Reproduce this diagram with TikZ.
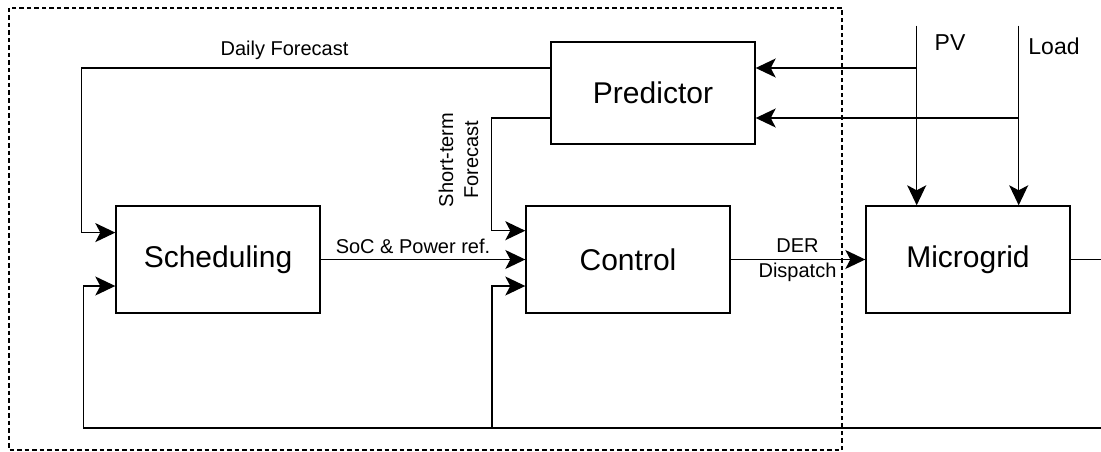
\documentclass[tikz,border=0pt]{standalone}
\usepackage{fontspec}
\setmainfont{Liberation Sans}
\usetikzlibrary{arrows.meta}
\begin{document}
\begin{tikzpicture}[x=1pt,y=-1pt,
  blk/.style={draw, line width=1.4pt, minimum width=204pt, minimum height=107pt,
    inner sep=0pt, font=\fontsize{30}{36}\selectfont},
  wire/.style={line width=1.4pt},
  flow/.style={wire, -{Stealth[length=20pt,width=19pt,inset=5pt]}},
  lbl/.style={inner sep=0pt, align=center, font=\fontsize{20}{25}\selectfont},
  io/.style={inner sep=0pt, font=\fontsize{23}{28}\selectfont},
  frame/.style={line width=1.4pt, dash pattern=on 4.5pt off 3pt},
]
\useasboundingbox (0,0) rectangle (1101,452);
\clip (0,0) rectangle (1101,452);

% controller frame
\draw[frame] (9,8) rectangle (842,450);

% blocks
\node[blk, minimum height=102pt] (pred) at (653,93) {Predictor};
\node[blk] (sched) at (218,259.5) {Scheduling};
\node[blk] (ctrl) at (628,259.5) {Control};
\node[blk] (mg) at (968,259.5) {Microgrid};

% external measurements
\coordinate (pvtop) at (916.7,25.7);
\coordinate (loadtop) at (1018.7,25.7);
\draw[flow] (pvtop) -- (pvtop |- mg.north);
\draw[flow] (loadtop) -- (loadtop |- mg.north);
\node[io] (pvlbl) at (950,43) {PV};
\node[io] (loadlbl) at (1054,46) {Load};

\coordinate (pvtap) at (916.7,68);
\coordinate (loadtap) at (1018.7,118);
\draw[flow] (pvtap) -- (pvtap -| pred.east);
\draw[flow] (loadtap) -- (loadtap -| pred.east);

% forecasts
\coordinate (dfA) at (81.5,68);
\coordinate (dfB) at (81.5,232.6);
\draw[flow] (dfA -| pred.west) -- (dfA) -- (dfB) -- (dfB -| sched.west);
\node[lbl] (dflbl) at (284.5,50) {Daily Forecast};

\coordinate (stA) at (491.7,118);
\coordinate (stB) at (491.7,230.7);
\draw[flow] (stA -| pred.west) -- (stA) -- (stB) -- (stB -| ctrl.west);
\node[lbl, rotate=90, align=center] (stlbl) at (458.5,160) {Short-term\\Forecast};

% references and dispatch
\draw[flow] (sched.east) -- (ctrl.west);
\node[lbl] (soclbl) at (413,246.7) {SoC \& Power ref.};
\draw[flow] (ctrl.east) -- (mg.west);
\node[lbl] (derlbl) at (797.5,260) {DER\\Dispatch};

% measurement feedback
\coordinate (fbR) at (1110,259.5);
\coordinate (fbRB) at (1110,428);
\coordinate (fbL) at (83.5,428);
\coordinate (fbLT) at (83.5,286);
\coordinate (fbM) at (492,428);
\coordinate (fbMT) at (492,286);
\draw[flow] (mg.east) -- (fbR) -- (fbRB) -- (fbL) -- (fbLT) -- (fbLT -| sched.west);
\draw[flow] (fbM) -- (fbMT) -- (fbMT -| ctrl.west);
\end{tikzpicture}
\end{document}
